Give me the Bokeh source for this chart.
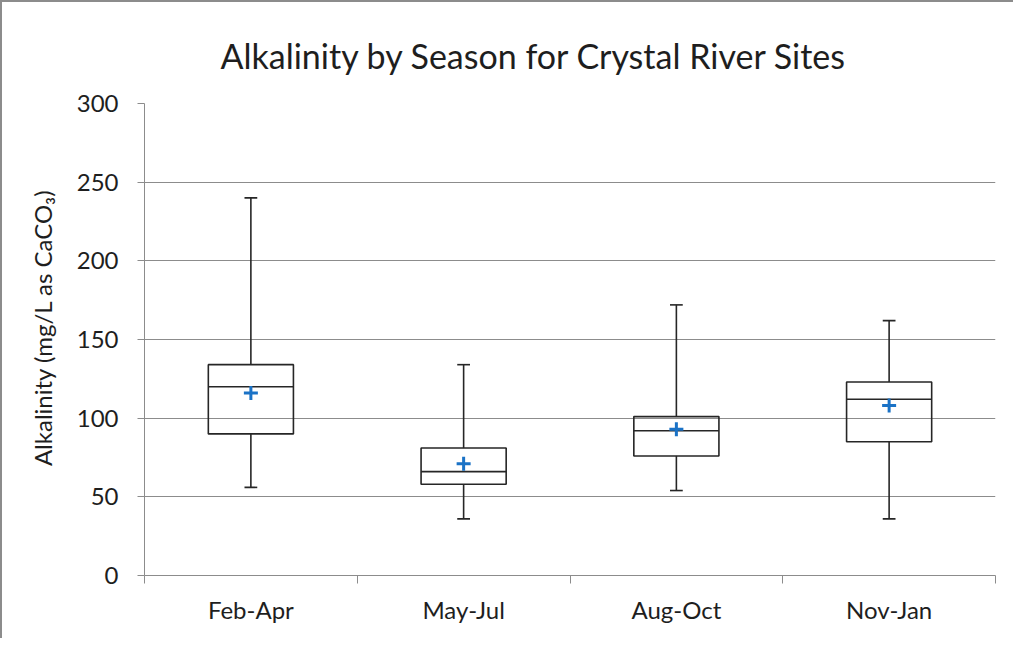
from bokeh.plotting import figure
from bokeh.models import Range1d, FixedTicker
from bokeh.embed import file_html
from bokeh.resources import INLINE

# ---- data ----
seasons = ["Feb-Apr", "May-Jul", "Aug-Oct", "Nov-Jan"]
whisker_low = [56, 36, 54, 36]
q1 = [90, 58, 76, 85]
median = [120, 66, 92, 112]
q3 = [134, 81, 101, 123]
whisker_high = [240, 134, 172, 162]
mean = [116, 71, 93, 108]
y_ticks = [0, 50, 100, 150, 200, 250, 300]

FONT = "Lato"
GRAY = "#8c8c8c"
TXT = "#1e1e1e"
BOX = "#262626"

n = len(seasons)
centers = [i + 0.5 for i in range(n)]
box_half = 0.2
cap_half = 0.03

p = figure(width=1013, height=638, x_range=Range1d(0, n), y_range=Range1d(0, 300),
           output_backend="svg", toolbar_location=None,
           min_border_left=142, min_border_right=20, min_border_top=101, min_border_bottom=65,
           title="Alkalinity by Season for Crystal River Sites")
p.styles = {"border-left": "2px solid #8c8c8c", "border-top": "2px solid #8c8c8c"}
p.outline_line_color = None
p.background_fill_color = "white"
p.border_fill_color = "white"

# title
p.title.align = "left"
p.title.offset = 76
p.title.standoff = 55
p.title.text_font = FONT
p.title.text_font_style = "normal"
p.title.text_font_size = "34px"
p.title.text_color = TXT

# y axis
p.yaxis.ticker = FixedTicker(ticks=y_ticks)
p.yaxis.axis_line_color = GRAY
p.yaxis.major_tick_line_color = GRAY
p.yaxis.major_tick_out = 7
p.yaxis.major_tick_in = 0
p.yaxis.minor_tick_line_color = None
p.yaxis.major_label_standoff = 19
p.yaxis.major_label_text_font = FONT
p.yaxis.major_label_text_font_size = "24px"
p.yaxis.major_label_text_color = TXT
p.yaxis.axis_label = "\u00a0\u00a0\u00a0\u00a0Alkalinity (mg/L as CaCO\u2083)"
p.yaxis.axis_label_text_font = FONT
p.yaxis.axis_label_text_font_style = "normal"
p.yaxis.axis_label_text_font_size = "24px"
p.yaxis.axis_label_text_color = TXT
p.yaxis.axis_label_standoff = 17

# x axis: labels at centres, tick marks at category boundaries
p.xaxis.ticker = FixedTicker(ticks=centers, minor_ticks=list(range(n + 1)))
p.xaxis.major_label_overrides = {c: s for c, s in zip(centers, seasons)}
p.xaxis.axis_line_color = GRAY
p.xaxis.major_tick_line_color = None
p.xaxis.major_tick_out = 0
p.xaxis.major_tick_in = 0
p.xaxis.minor_tick_line_color = GRAY
p.xaxis.minor_tick_out = 8
p.xaxis.minor_tick_in = 0
p.xaxis.major_label_standoff = 11
p.xaxis.major_label_text_font = FONT
p.xaxis.major_label_text_font_size = "24px"
p.xaxis.major_label_text_color = TXT

p.xgrid.visible = False
p.ygrid.ticker = FixedTicker(ticks=y_ticks)
p.ygrid.grid_line_color = GRAY
p.ygrid.grid_line_width = 1

# boxes
left = [c - box_half for c in centers]
right = [c + box_half for c in centers]
p.quad(left=left, right=right, bottom=q1, top=q3, fill_color=None,
       line_color=BOX, line_width=1.6)
p.segment(x0=left, x1=right, y0=median, y1=median, line_color=BOX, line_width=1.6)
# whiskers
p.segment(x0=centers, x1=centers, y0=q3, y1=whisker_high, line_color=BOX, line_width=1.6)
p.segment(x0=centers, x1=centers, y0=q1, y1=whisker_low, line_color=BOX, line_width=1.6)
cl = [c - cap_half for c in centers]
cr = [c + cap_half for c in centers]
p.segment(x0=cl, x1=cr, y0=whisker_high, y1=whisker_high, line_color=BOX, line_width=1.6)
p.segment(x0=cl, x1=cr, y0=whisker_low, y1=whisker_low, line_color=BOX, line_width=1.6)
# means
p.scatter(x=centers, y=mean, marker="cross", size=14, line_width=3, line_color="#1a72c6")

open("out.html", "w").write(file_html(p, INLINE))
